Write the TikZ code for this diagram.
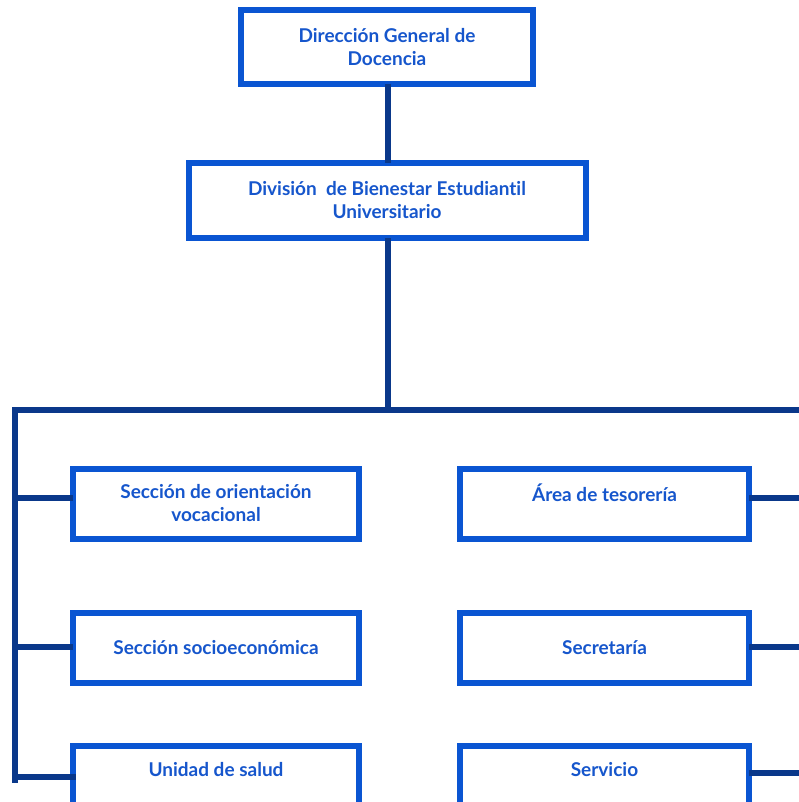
\documentclass[tikz,border=0pt]{standalone}
\usepackage{fontspec}
\setmainfont[Ligatures={NoCommon}]{Lato}
\definecolor{boxblue}{HTML}{0A55D2}
\definecolor{textblue}{HTML}{1656CC}
\definecolor{linknavy}{HTML}{0A388A}
\begin{document}
\begin{tikzpicture}[x=1pt, y=-1pt,
    box/.style={draw=boxblue, line width=6pt, fill=white, inner sep=0pt, outer sep=0pt,
      align=center, text=textblue, font=\fontsize{19}{23}\selectfont\bfseries},
    small/.style={box, minimum width=286pt, minimum height=70pt},
    link/.style={draw=linknavy, line width=5.5pt}]
    \clip (0, 0) rectangle (799, 802);

    \coordinate (busL) at (15, 410);
    \coordinate (busT) at (388, 410);
    \coordinate (busR) at (799, 410);
    \coordinate (busLend) at (15, 780);
    \coordinate (lA) at (15, 498);
    \coordinate (lB) at (15, 647);
    \coordinate (lC) at (15, 777);
    \coordinate (edgeA) at (799, 498);
    \coordinate (edgeB) at (799, 647);
    \coordinate (edgeC) at (799, 773);

    \node [box, minimum width=292pt, minimum height=74pt] (dir) at (387, 47) {Dirección General de\\Docencia};
    \node [box, minimum width=397pt, minimum height=75pt] (div) at (387, 200.5) {División~ de Bienestar Estudiantil\\Universitario};

    \node [small] (orient) at (216, 503.5) {Sección de orientación\\vocacional};
    \node [small] (socio) at (216, 647.5) {Sección socioeconómica};
    \node [small] (salud) at (216, 780.5) {Unidad de salud\\\mbox{}};

    \node [small, minimum width=289pt] (tesor) at (604.5, 504) {Área de tesorería\\\mbox{}};
    \node [small, minimum width=289pt] (secre) at (604.5, 648) {Secretaría};
    \node [small, minimum width=289pt] (serv) at (604.5, 780.5) {Servicio\\\mbox{}};

    \draw [link] (dir.south -| busT) -- (div.north -| busT);
    \draw [link] (div.south -| busT) -- (busT);
    \draw [link, line cap=rect] (busLend) -- (busL) -- (busR);
    \draw [link] (lA) -- (lA -| orient.west);
    \draw [link] (lB) -- (lB -| socio.west);
    \draw [link, line cap=rect] (lC) -- (lC -| salud.west);
    \draw [link] (edgeA) -- (edgeA -| tesor.east);
    \draw [link] (edgeB) -- (edgeB -| secre.east);
    \draw [link] (edgeC) -- (edgeC -| serv.east);
  \end{tikzpicture}
\end{document}
